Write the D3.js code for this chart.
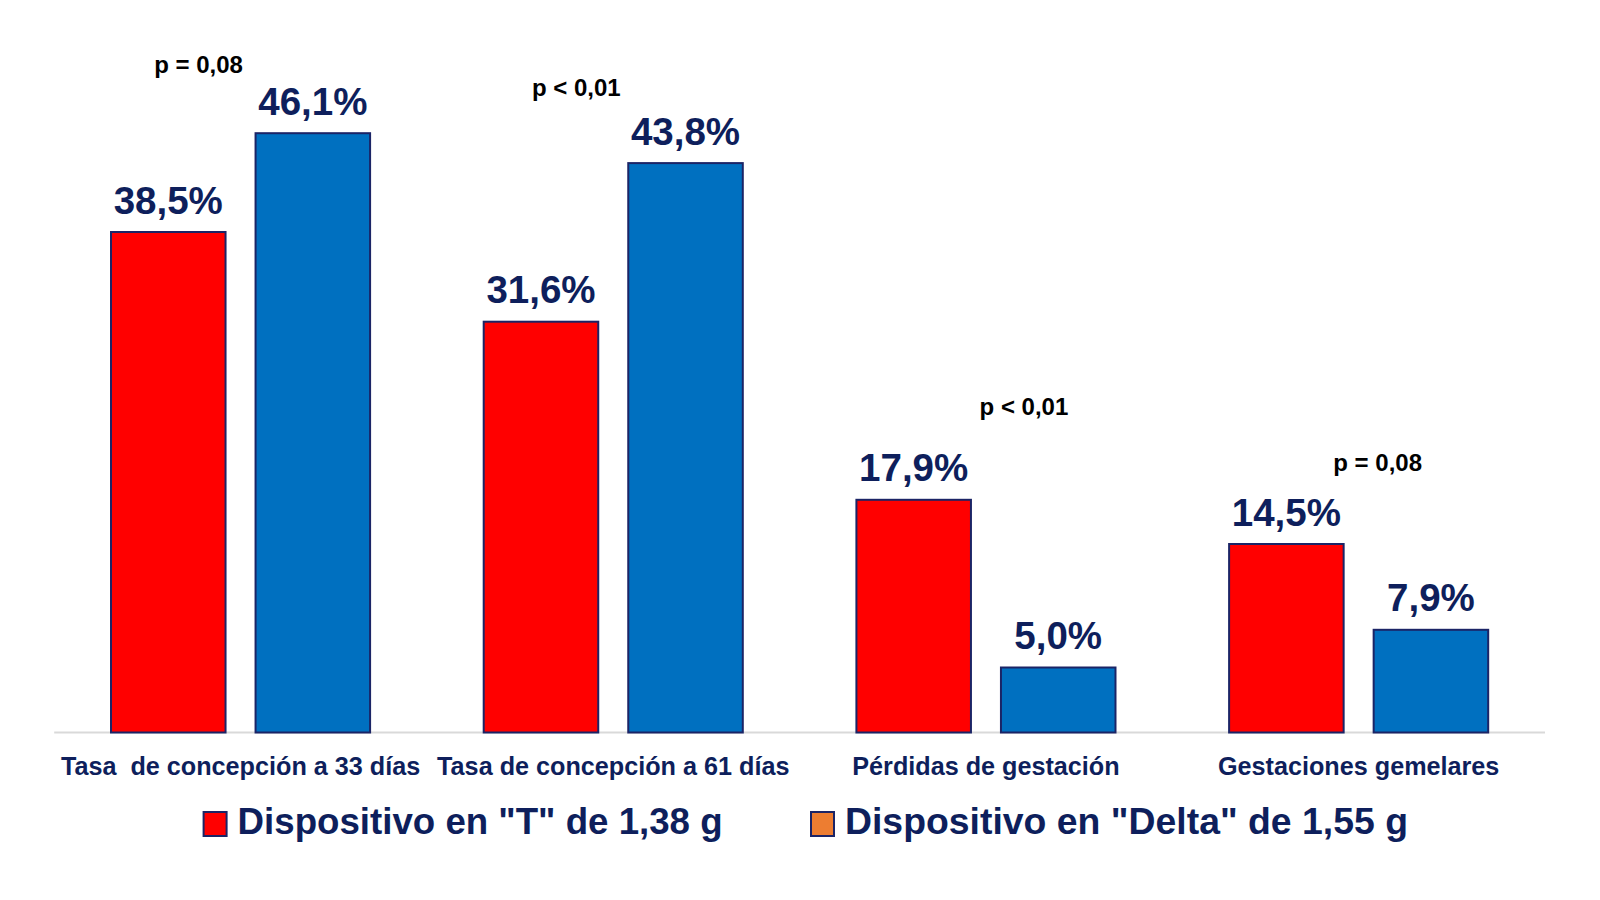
<!DOCTYPE html>
<html>
<head>
<meta charset="utf-8">
<script src="https://cdn.jsdelivr.net/npm/d3@7"></script>
<style>
  html, body { margin: 0; padding: 0; background: #ffffff; }
  svg { display: block; }
  text { font-family: "Liberation Sans", Arial, sans-serif; font-weight: bold; }
</style>
</head>
<body>
<svg id="chart" width="1600" height="900"></svg>
<script>
// ---- Data ----
const categories = [
  "Tasa  de concepción a 33 días",
  "Tasa de concepción a 61 días",
  "Pérdidas de gestación",
  "Gestaciones gemelares"
];
const seriesNames = [
  'Dispositivo en "T" de 1,38 g',
  'Dispositivo en "Delta" de 1,55 g'
];
const seriesT = [38.5, 31.6, 17.9, 14.5];
const seriesDelta = [46.1, 43.8, 5.0, 7.9];
const valueLabelsT = ["38,5%", "31,6%", "17,9%", "14,5%"];
const valueLabelsDelta = ["46,1%", "43,8%", "5,0%", "7,9%"];
const pLabels = ["p = 0,08", "p < 0,01", "p < 0,01", "p = 0,08"];
// p-label anchor level, in the chart's % units
const pLevels = [50.7, 49.0, 24.4, 20.1];

// ---- Layout / styles ----
const pOffsetX = [-42, -37, 38, 19];
const barColors = ["#FF0000", "#0070C0"];
const legendColors = ["#FF0000", "#ED7D31"];
const strokeColor = "#1B2466";
const navy = "#0E1F5C";

const svg = d3.select("#chart");
const x0 = d3.scaleBand().domain(categories).range([54.2, 1545]).paddingInner(0).paddingOuter(0);
const x1 = d3.scaleBand().domain(seriesNames).range([0, x0.bandwidth()]).paddingInner(0.2076).paddingOuter(0.393);
const y = d3.scaleLinear().domain([0, 50]).range([732.5, 82.5]);

const rows = categories.map((c, i) => ({
  cat: c,
  vals: [
    { s: seriesNames[0], v: seriesT[i], lab: valueLabelsT[i], color: barColors[0] },
    { s: seriesNames[1], v: seriesDelta[i], lab: valueLabelsDelta[i], color: barColors[1] }
  ]
}));

// axis baseline
svg.append("line")
  .attr("x1", x0.range()[0]).attr("x2", x0.range()[1])
  .attr("y1", y(0)).attr("y2", y(0))
  .attr("stroke", "#D9D9D9").attr("stroke-width", 2);

const groups = svg.selectAll("g.grp").data(rows).join("g")
  .attr("class", "grp")
  .attr("transform", d => `translate(${x0(d.cat)},0)`);

groups.selectAll("rect").data(d => d.vals).join("rect")
  .attr("x", d => x1(d.s))
  .attr("y", d => y(d.v))
  .attr("width", x1.bandwidth())
  .attr("height", d => y(0) - y(d.v))
  .attr("fill", d => d.color)
  .attr("stroke", strokeColor)
  .attr("stroke-width", 2);

groups.selectAll("text.val").data(d => d.vals).join("text")
  .attr("class", "val")
  .attr("x", d => x1(d.s) + x1.bandwidth() / 2)
  .attr("y", d => y(d.v) - 18.5)
  .attr("text-anchor", "middle")
  .attr("font-size", 38.5)
  .attr("fill", navy)
  .text(d => d.lab);

// p-value annotations
svg.selectAll("text.pval").data(pLabels).join("text")
  .attr("class", "pval")
  .attr("x", (d, i) => x0(categories[i]) + x0.bandwidth() / 2 + pOffsetX[i])
  .attr("y", (d, i) => y(pLevels[i]))
  .attr("text-anchor", "middle")
  .attr("font-size", 24)
  .attr("fill", "#000000")
  .text(d => d);

// category axis labels
const xAxis = d3.axisBottom(x0).tickSize(0).tickPadding(0);
const axisG = svg.append("g").attr("transform", `translate(0,${y(0)})`).call(xAxis);
axisG.select(".domain").remove();
axisG.selectAll(".tick text")
  .attr("y", 42.5)
  .attr("dy", 0)
  .attr("font-size", 25.2)
  .attr("font-family", '"Liberation Sans", Arial, sans-serif')
  .attr("font-weight", "bold")
  .attr("fill", navy)
  .style("white-space", "pre")
  .attr("xml:space", "preserve");

// legend
const legendX = [203.6, 811];
const legendTextWidth = [485, 563];
const leg = svg.selectAll("g.leg").data(seriesNames).join("g")
  .attr("class", "leg")
  .attr("transform", (d, i) => `translate(${legendX[i]},812)`);
leg.append("rect")
  .attr("width", 23).attr("height", 24)
  .attr("fill", (d, i) => legendColors[i])
  .attr("stroke", strokeColor).attr("stroke-width", 2);
leg.append("text")
  .attr("x", 34).attr("y", 21.6)
  .attr("font-size", 37)
  .attr("fill", navy)
  .attr("textLength", (d, i) => legendTextWidth[i])
  .attr("lengthAdjust", "spacingAndGlyphs")
  .text(d => d);
</script>
</body>
</html>
